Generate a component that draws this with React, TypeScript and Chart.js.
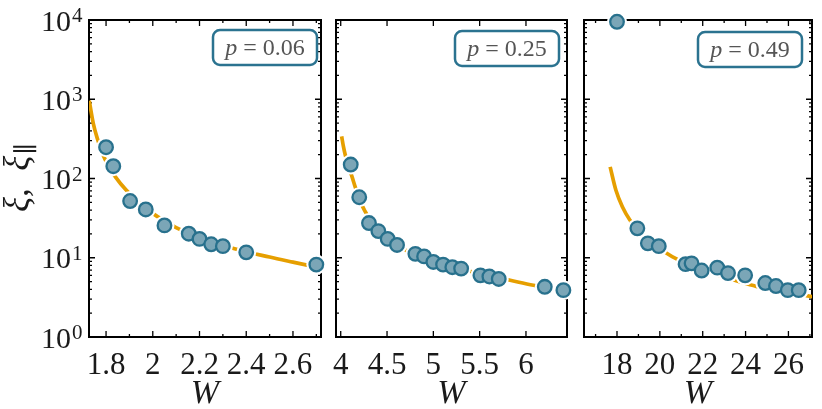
import React, { useEffect, useRef } from "react";
import { Chart, registerables } from "chart.js";

Chart.register(...registerables);

// ---------------- data ----------------
const leftW = [1.8, 1.831, 1.903, 1.97, 2.05, 2.154, 2.2, 2.25, 2.3, 2.4, 2.7];
const leftXi = [248, 143, 52, 40.7, 25.6, 20.1, 17.3, 14.8, 14, 11.7, 8.2];
const leftFitW = [1.728, 1.745, 1.764, 1.785, 1.81, 1.84, 1.885, 1.95, 2.02, 2.1, 2.2, 2.35, 2.5, 2.6, 2.72];
const leftFitXi = [960, 500, 310, 205, 145, 105, 72, 47, 33, 24, 18, 13, 10.2, 8.8, 7.4];

const midW = [4.108, 4.2, 4.305, 4.406, 4.507, 4.608, 4.806, 4.9, 5.0, 5.105, 5.205, 5.3, 5.508, 5.605, 5.706, 6.203, 6.404];
const midXi = [150, 58, 27.4, 21.7, 17.3, 14.5, 11.2, 10.4, 8.85, 8.2, 7.6, 7.3, 6.0, 5.8, 5.4, 4.3, 3.9];
const midFitW = [4.01, 4.03, 4.046, 4.08, 4.119, 4.16, 4.21, 4.26, 4.33, 4.45, 4.6, 4.8, 5.0, 5.3, 5.5, 5.83, 6.08, 6.44];
const midFitXi = [340, 250, 205, 145, 108, 76, 52, 39, 29, 20, 14.5, 11, 9.0, 7.2, 6.3, 5.2, 4.5, 3.9];

const rightW = [18, 18.95, 19.44, 19.95, 21.2, 21.48, 21.95, 22.68, 23.18, 23.98, 24.92, 25.42, 25.97, 26.48];
const rightXi = [9500, 23.5, 15.2, 14, 8.3, 8.5, 6.9, 7.5, 6.4, 6.0, 4.8, 4.4, 3.9, 3.9];
const rightFitW = [17.68, 17.95, 18.25, 18.6, 19.0, 19.6, 20.3, 20.8, 21.5, 22.2, 23, 23.8, 24.5, 25.5, 26.3, 27.2];
const rightFitXi = [140, 71, 44, 30, 22.5, 16, 11.5, 9.6, 8.0, 6.8, 5.7, 4.9, 4.35, 3.8, 3.5, 3.2];

const panelLabels = ["0.06", "0.25", "0.49"];

const leftXMajor = [1.8, 2.0, 2.2, 2.4, 2.6];
const leftXMinor = [1.9, 2.1, 2.3, 2.5, 2.7];
const leftXTickLabels = ["1.8", "2", "2.2", "2.4", "2.6"];
const midXMajor = [4, 4.5, 5, 5.5, 6];
const midXMinor: number[] = [];
const midXTickLabels = ["4", "4.5", "5", "5.5", "6"];
const rightXMajor = [18, 20, 22, 24, 26];
const rightXMinor = [17, 19, 21, 23, 25, 27];
const rightXTickLabels = ["18", "20", "22", "24", "26"];

const yMajor = [1, 10, 100, 1000, 10000];
const yMinor = [2, 3, 4, 5, 6, 7, 8, 9, 20, 30, 40, 50, 60, 70, 80, 90, 200, 300, 400, 500, 600, 700, 800, 900, 2000, 3000, 4000, 5000, 6000, 7000, 8000, 9000];
const yTickBase = "10";
const yTickExponents = ["0", "1", "2", "3", "4"];

// ---------------- style / layout ----------------
const CW = 822;
const CH = 409;
const FONT = '"Liberation Serif", "DejaVu Serif", serif';
const ORANGE = "#e69f00";
const FILL = "#7ba6b7";
const EDGE = "#28718d";
const TEXT = "#1a1a1a";

const layouts = [
  { left: 89, right: 321, top: 20, bottom: 337, xMin: 1.727, xMax: 2.72, boxInset: 4, boxTop: 30, showY: true },
  { left: 336, right: 567, top: 20, bottom: 337, xMin: 3.949, xMax: 6.443, boxInset: 8, boxTop: 31, showY: false },
  { left: 584, right: 817, top: 20, bottom: 337, xMin: 16.46, xMax: 27.1, boxInset: 10, boxTop: 32, showY: false },
];

const series = [
  { w: leftW, xi: leftXi, fw: leftFitW, fxi: leftFitXi, major: leftXMajor, minor: leftXMinor, labels: leftXTickLabels },
  { w: midW, xi: midXi, fw: midFitW, fxi: midFitXi, major: midXMajor, minor: midXMinor, labels: midXTickLabels },
  { w: rightW, xi: rightXi, fw: rightFitW, fxi: rightFitXi, major: rightXMajor, minor: rightXMinor, labels: rightXTickLabels },
];

function makeChart(canvas: HTMLCanvasElement, idx: number) {
  const L = layouts[idx];
  const S = series[idx];
  const pts = S.w.map((x, i) => ({ x, y: S.xi[i] }));
  const fit = S.fw.map((x, i) => ({ x, y: S.fxi[i] }));

  const framePlugin = {
    id: "frame" + idx,
    beforeDatasetsDraw(chart: any) {
      const { ctx, chartArea: a, scales } = chart;
      const xs = scales.x;
      const ys = scales.y;
      ctx.save();
      ctx.strokeStyle = "#000";
      ctx.lineWidth = 1.3;
      ctx.beginPath();
      const xt = (vals: number[], len: number) => {
        vals.forEach((v) => {
          const px = xs.getPixelForValue(v);
          if (px < a.left || px > a.right) return;
          ctx.moveTo(px, a.bottom);
          ctx.lineTo(px, a.bottom - len);
          ctx.moveTo(px, a.top);
          ctx.lineTo(px, a.top + len);
        });
      };
      const yt = (vals: number[], len: number) => {
        vals.forEach((v) => {
          const py = ys.getPixelForValue(v);
          ctx.moveTo(a.left, py);
          ctx.lineTo(a.left + len, py);
          ctx.moveTo(a.right, py);
          ctx.lineTo(a.right - len, py);
        });
      };
      xt(S.major, 6);
      xt(S.minor, 3);
      yt(yMajor, 6);
      yt(yMinor, 3);
      ctx.stroke();
      ctx.lineWidth = 2;
      ctx.strokeRect(a.left, a.top, a.right - a.left, a.bottom - a.top);
      ctx.restore();
    },
    afterDraw(chart: any) {
      const { ctx, chartArea: a, scales } = chart;
      ctx.save();
      // p-label box
      const bw = 104;
      const bh = 35;
      const bx = a.right - L.boxInset - bw;
      const by = L.boxTop;
      ctx.beginPath();
      (ctx as any).roundRect(bx, by, bw, bh, 7);
      ctx.fillStyle = "#fff";
      ctx.fill();
      ctx.lineWidth = 2.5;
      ctx.strokeStyle = "#2b7390";
      ctx.stroke();
      const fs = 24;
      ctx.fillStyle = "#555";
      ctx.textBaseline = "alphabetic";
      ctx.textAlign = "left";
      ctx.font = `italic ${fs}px ${FONT}`;
      const pW = ctx.measureText("p").width;
      ctx.font = `${fs}px ${FONT}`;
      const eqW = ctx.measureText("=").width;
      const numW = ctx.measureText(panelLabels[idx]).width;
      const gap = 6;
      const total = pW + gap + eqW + gap + numW;
      let tx = bx + bw / 2 - total / 2;
      const ty = by + bh / 2 + fs * 0.33;
      ctx.font = `italic ${fs}px ${FONT}`;
      ctx.fillText("p", tx, ty);
      tx += pW + gap;
      ctx.font = `${fs}px ${FONT}`;
      ctx.fillText("=", tx, ty);
      tx += eqW + gap;
      ctx.fillText(panelLabels[idx], tx, ty);

      if (L.showY) {
        const ys = scales.y;
        ctx.fillStyle = TEXT;
        yMajor.forEach((v, i) => {
          const py = ys.getPixelForValue(v);
          ctx.font = `30px ${FONT}`;
          ctx.textAlign = "right";
          ctx.fillText(yTickBase, 71, py + 10.5);
          ctx.textAlign = "left";
          ctx.font = `21px ${FONT}`;
          ctx.fillText(yTickExponents[i], 72, py + 2);
        });
        // axis title
        ctx.translate(20, 178);
        ctx.rotate(-Math.PI / 2);
        ctx.font = `italic 35px ${FONT}`;
        const t1 = "ξ,  ξ";
        const w1 = ctx.measureText(t1).width;
        ctx.font = `25px ${FONT}`;
        const w2 = ctx.measureText("∥").width;
        const start = -(w1 + w2) / 2;
        ctx.font = `italic 35px ${FONT}`;
        ctx.textAlign = "left";
        ctx.fillText(t1, start, 8);
        ctx.font = `25px ${FONT}`;
        ctx.fillText("∥", start + w1 + 1, 14);
      }
      ctx.restore();
    },
  };

  return new Chart(canvas, {
    type: "scatter",
    data: {
      datasets: [
        {
          type: "line",
          data: fit,
          borderColor: ORANGE,
          borderWidth: 3.7,
          pointRadius: 0,
          cubicInterpolationMode: "monotone",
          fill: false,
          order: 3,
        } as any,
        {
          data: pts,
          pointRadius: 10,
          pointBackgroundColor: "#fff",
          pointBorderWidth: 0,
          showLine: false,
          clip: false,
          order: 2,
        } as any,
        {
          data: pts,
          pointRadius: 6.8,
          pointBackgroundColor: FILL,
          pointBorderColor: EDGE,
          pointBorderWidth: 2.3,
          showLine: false,
          clip: false,
          order: 1,
        } as any,
      ],
    },
    options: {
      animation: false,
      responsive: false,
      events: [],
      layout: { padding: { left: L.left, right: CW - L.right, top: L.top, bottom: 0 } },
      plugins: { legend: { display: false }, tooltip: { enabled: false } },
      scales: {
        x: {
          type: "linear",
          min: L.xMin,
          max: L.xMax,
          grid: { display: false, drawTicks: false },
          border: { display: false },
          afterBuildTicks: (axis: any) => {
            axis.ticks = S.major.map((v) => ({ value: v }));
          },
          afterFit: (axis: any) => {
            axis.height = CH - L.bottom;
          },
          ticks: {
            autoSkip: false,
            maxRotation: 0,
            minRotation: 0,
            padding: 10,
            color: TEXT,
            font: { family: FONT, size: 31 },
            callback: (_v: any, i: number) => S.labels[i],
          },
          title: {
            display: true,
            text: "W",
            color: TEXT,
            font: { family: FONT, size: 34, style: "italic", lineHeight: 0.9 },
            padding: { top: 0, bottom: 0 },
          },
        },
        y: {
          type: "logarithmic",
          min: 1,
          max: 10000,
          display: false,
        },
      },
    } as any,
    plugins: [framePlugin],
  });
}

export default function App() {
  const r0 = useRef<HTMLCanvasElement>(null);
  const r1 = useRef<HTMLCanvasElement>(null);
  const r2 = useRef<HTMLCanvasElement>(null);

  useEffect(() => {
    const refs = [r0, r1, r2];
    const charts = refs.map((r, i) => makeChart(r.current as HTMLCanvasElement, i));
    return () => charts.forEach((c) => c.destroy());
  }, []);

  const cs: React.CSSProperties = { position: "absolute", left: 0, top: 0, width: CW, height: CH };
  return (
    <div style={{ position: "fixed", left: 0, top: 0, width: CW, height: CH, background: "#fff" }}>
      <canvas ref={r0} width={CW} height={CH} style={cs} />
      <canvas ref={r1} width={CW} height={CH} style={cs} />
      <canvas ref={r2} width={CW} height={CH} style={cs} />
    </div>
  );
}
